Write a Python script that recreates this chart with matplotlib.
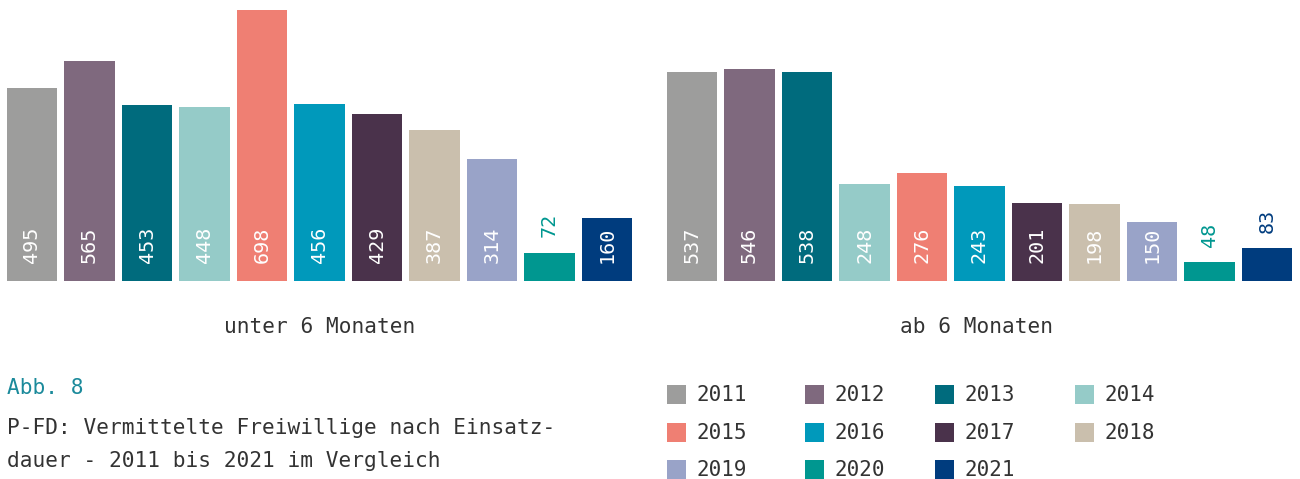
import numpy as np
import matplotlib
matplotlib.use('Agg')
import matplotlib.pyplot as plt
from matplotlib.patches import Rectangle

# data
years = ['2011', '2012', '2013', '2014', '2015', '2016', '2017', '2018', '2019', '2020', '2021']
unter_6 = [495, 565, 453, 448, 698, 456, 429, 387, 314, 72, 160]
ab_6 = [537, 546, 538, 248, 276, 243, 201, 198, 150, 48, 83]
groups = ['unter 6 Monaten', 'ab 6 Monaten']
colors = ['#9d9d9c', '#7f697e', '#006b7d', '#95cbc8', '#ef7f73', '#0099bb',
          '#4a324b', '#cabfad', '#99a3c8', '#009790', '#003c7e']

plt.rcParams['font.family'] = ['DejaVu Sans Mono']
txt_col = '#333333'
W, H = 1300, 479

fig = plt.figure(figsize=(13, 4.79), dpi=100)

base_px = 280.5
px_per_unit = 0.388
ymax = base_px / px_per_unit


def bar_panel(left_px, values):
    ax = fig.add_axes([left_px / W, 1 - base_px / H, 632.5 / W, base_px / H])
    x = np.arange(len(values))
    ax.bar(x, values, width=0.87, color=colors)
    for i, v in enumerate(values):
        if v >= 100:
            ax.annotate(str(v), xy=(i, 0), xytext=(0, 12.5), textcoords='offset points',
                        rotation=90, ha='center', va='bottom', color='white', fontsize=14.5)
        else:
            ax.annotate(str(v), xy=(i, v), xytext=(0, 11), textcoords='offset points',
                        rotation=90, ha='center', va='bottom', color=colors[i], fontsize=14.5)
    ax.set_xlim(-0.5, len(values) - 0.5)
    ax.set_ylim(0, ymax)
    ax.axis('off')
    return ax


bar_panel(3.25, unter_6)
bar_panel(663.25, ab_6)

fs = 15.2
fig.text(320 / W, 1 - 327 / H, groups[0], ha='center', va='center', fontsize=fs, color=txt_col)
fig.text(977 / W, 1 - 327 / H, groups[1], ha='center', va='center', fontsize=fs, color=txt_col)

fig.text(7 / W, 1 - 388 / H, 'Abb. 8', ha='left', va='center', fontsize=fs, color='#1b8a9b')
fig.text(7 / W, 1 - 428 / H, 'P-FD: Vermittelte Freiwillige nach Einsatz-', ha='left',
         va='center', fontsize=fs, color=txt_col)
fig.text(7 / W, 1 - 461 / H, 'dauer - 2011 bis 2021 im Vergleich', ha='left',
         va='center', fontsize=fs, color=txt_col)

# legend
leg = fig.add_axes([0, 0, 1, 1])
leg.set_xlim(0, W)
leg.set_ylim(H, 0)
leg.axis('off')
col_x = [667, 805, 935, 1075]
row_y = [394, 432, 469]
for k, (yr, c) in enumerate(zip(years, colors)):
    cx = col_x[k % 4]
    cy = row_y[k // 4]
    leg.add_patch(Rectangle((cx, cy - 9.5), 19, 19, color=c, lw=0))
    leg.text(cx + 30, cy + 1, yr, ha='left', va='center', fontsize=15, color=txt_col)

fig.savefig('out.png', dpi=100)
